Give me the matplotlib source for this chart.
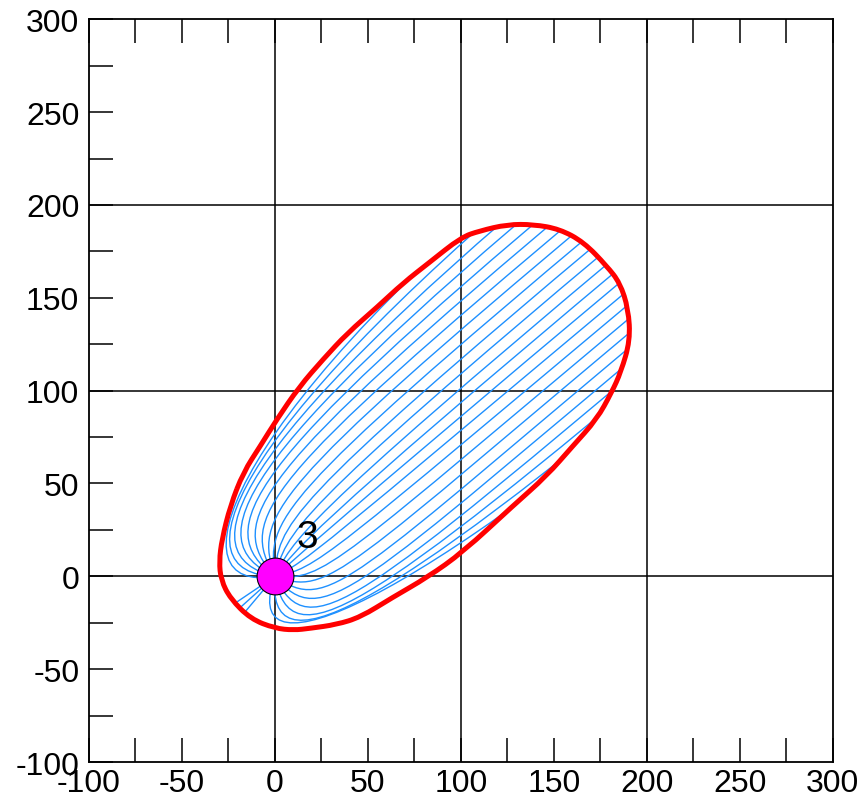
import numpy as np
import matplotlib
matplotlib.use('Agg')
import matplotlib.pyplot as plt
from matplotlib.path import Path
from matplotlib.patches import PathPatch
from matplotlib.ticker import MultipleLocator, FuncFormatter

plt.rcParams['font.family'] = ['Liberation Sans', 'DejaVu Sans']
plt.rcParams['axes.unicode_minus'] = False

# outline of the zone (red), going round once
edge_x = [-24, -28.5, -30, -29, -24, -13, 0, 10, 19, 33, 46, 63, 82, 101, 128, 146, 160,
          173, 181, 186, 191, 190, 185.5, 178.5, 166, 153, 139, 125, 110, 100, 83, 69,
          55, 39, 26, 13, 1, -8, -17]
edge_y = [38, 20, 8, -2, -12, -23, -28, -29, -28, -26, -22, -11.5, -0.5, 13, 38, 54, 70,
          84.5, 99, 110, 127, 144, 158, 167, 180, 187, 189.5, 189.5, 186, 182.5, 169, 158,
          145, 131, 117, 102, 84.5, 70, 56]

# blue trajectories: start direction at the source (deg) and the sideways
# offset of the straight, parallel part far from the source
traj_angle = [190, 178.5, 167, 155.5, 144, 132.5, 121, 109, 97.5, 86, 74.5, 63, 51.5, 40,
              25, 10, -5, -20, -35, -50, -65, -80, -95, -110]
traj_offset = [80, 74, 68, 62, 56, 50, 44, 38, 32, 26, 20, 14, 8, 2,
               -4, -10, -16, -22, -28, -34, -40, -46, -52, -58]
# short straight rays leaving backwards (south-west)
ray_angle = [214, 222, 230]

source_x, source_y = 0, 0
source_label = '3'
label_x, label_y = 17.5, 21

drift_deg = 40


def smooth_closed(xs, ys):
    # quadratic B-spline through the outline points, closed
    pts = np.column_stack([xs, ys])
    mids = (pts + np.roll(pts, -1, axis=0)) / 2
    verts = [mids[-1]]
    codes = [Path.MOVETO]
    for i in range(len(pts)):
        verts += [pts[i], mids[i]]
        codes += [Path.CURVE3, Path.CURVE3]
    return Path(verts, codes)


fig = plt.figure(figsize=(8.64, 8.03), dpi=100)
ax = fig.add_axes([0.103, 0.0498, 0.861, 0.925])
ax.set_xlim(-100, 300)
ax.set_ylim(-100, 300)

for g in [0, 100, 200]:
    ax.axvline(g, color='black', lw=1.1, zorder=1)
    ax.axhline(g, color='black', lw=1.1, zorder=1)

outline = smooth_closed(edge_x, edge_y)
clip = PathPatch(outline, transform=ax.transData)

wx, wy = np.cos(np.radians(drift_deg)), np.sin(np.radians(drift_deg))
nx, ny = -wy, wx


def rot(a, c):
    return (source_x + a * wx + c * nx, source_y + a * wy + c * ny)


blue = '#1E90FF'
for th, c in zip(traj_angle, traj_offset):
    dev = abs((th - drift_deg + 180) % 360 - 180)
    h1 = 15 + 0.27 * dev
    p1 = (source_x + h1 * np.cos(np.radians(th)), source_y + h1 * np.sin(np.radians(th)))
    verts = [(source_x, source_y), p1, rot(25, c), rot(260, c)]
    codes = [Path.MOVETO, Path.CURVE4, Path.CURVE4, Path.CURVE4]
    p = PathPatch(Path(verts, codes), fill=False, edgecolor=blue, lw=1.0, zorder=2)
    ax.add_patch(p)
    p.set_clip_path(clip)

for th in ray_angle:
    r = 40
    ln, = ax.plot([source_x, source_x + r * np.cos(np.radians(th))],
                  [source_y, source_y + r * np.sin(np.radians(th))], color=blue, lw=1.0, zorder=2)
    ln.set_clip_path(clip)

ax.add_patch(PathPatch(outline, fill=False, edgecolor='#FF0000', lw=3.6, zorder=3))
ax.plot(source_x, source_y, 'o', ms=26.5, mfc='#FF00FF', mec='black', mew=0.8, zorder=4)
ax.text(label_x, label_y, source_label, fontsize=28, ha='center', va='center', zorder=5)

for a in (ax.xaxis, ax.yaxis):
    a.set_major_locator(MultipleLocator(25))
    a.set_major_formatter(FuncFormatter(lambda v, p: f'{v:g}' if v % 50 == 0 else ''))
ax.tick_params(direction='in', length=17, width=1.1, labelsize=23,
               left=True, top=True, bottom=True, right=False, colors='black')
ax.tick_params(axis='y', pad=7)
ax.tick_params(axis='x', pad=4)
for s in ax.spines.values():
    s.set_linewidth(1.3)

fig.savefig('out.png', dpi=100)
